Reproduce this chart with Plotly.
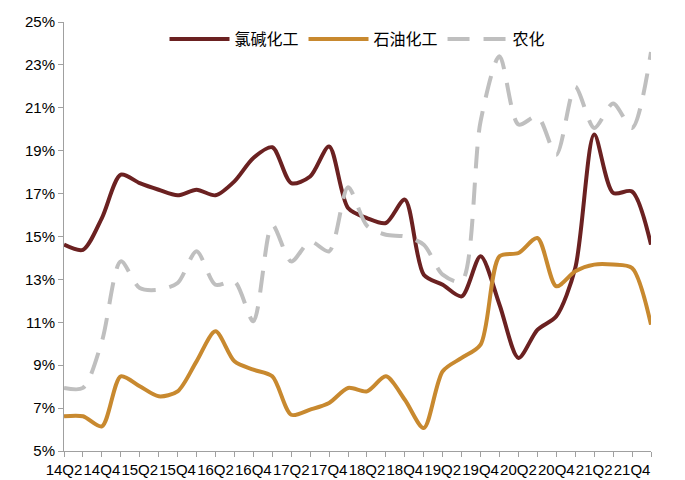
import plotly.graph_objects as go

quarters = ["14Q2","14Q3","14Q4","15Q1","15Q2","15Q3","15Q4","16Q1","16Q2","16Q3","16Q4","17Q1",
            "17Q2","17Q3","17Q4","18Q1","18Q2","18Q3","18Q4","19Q1","19Q2","19Q3","19Q4","20Q1",
            "20Q2","20Q3","20Q4","21Q1","21Q2","21Q3","21Q4","22Q1"]
chlor_alkali = [14.62,14.38,15.86,17.88,17.49,17.18,16.92,17.18,16.92,17.57,18.66,19.16,
                17.49,17.8,19.2,16.33,15.86,15.63,16.72,13.22,12.75,12.21,14.08,11.82,
                9.34,10.65,11.28,13.53,19.75,17.03,17.1,14.62]
petrochem = [6.62,6.62,6.15,8.48,8.02,7.55,7.78,9.18,10.58,9.18,8.79,8.48,
             6.69,6.93,7.24,7.94,7.78,8.48,7.39,6.07,8.72,9.34,9.96,14.08,
             14.23,14.93,12.68,13.38,13.69,13.69,13.53,10.89]
agro = [7.94,7.94,10.11,13.84,12.6,12.52,12.83,14.31,12.75,12.91,11.05,15.55,
        13.84,14.77,14.31,17.3,15.5,15.08,15.0,14.62,13.22,12.91,20.37,23.4,
        20.22,20.6,18.81,21.98,20.06,21.2,20.06,23.6]
names = ["氯碱化工","石油化工","农化"]
ytick_vals = [5,7,9,11,13,15,17,19,21,23,25]

x = list(range(len(quarters)))
fig = go.Figure()
for ys, nm, col, dash in [(chlor_alkali, names[0], "#6B2121", "solid"),
                          (petrochem, names[1], "#C8892F", "solid"),
                          (agro, names[2], "#BFBFBF", "22px,14px")]:
    fig.add_trace(go.Scatter(x=x, y=ys, name=nm, mode="lines",
                             line=dict(color=col, width=4, dash=dash, shape="spline", smoothing=0.8)))

fig.update_layout(
    width=685, height=480, paper_bgcolor="white", plot_bgcolor="white",
    margin=dict(l=56, r=42, t=14, b=37, autoexpand=False),
    font=dict(family="Noto Sans CJK SC", size=14, color="black"),
    legend=dict(orientation="h", x=0.5, xanchor="center", y=1.0, yanchor="top",
                xref="paper", yref="paper", font=dict(size=16), itemwidth=60,
                bgcolor="rgba(0,0,0,0)"),
    showlegend=True,
)
fig.update_xaxes(range=[0, len(quarters)-1], tickvals=x[::2], ticktext=quarters[::2],
                 showline=True, linecolor="#A0A0A0", ticks="outside", ticklen=5,
                 tickcolor="#A0A0A0", showgrid=False, zeroline=False, tickangle=0,
                 tickfont=dict(family="Liberation Sans Narrow, Liberation Sans", size=15))
fig.update_xaxes(minor=dict(tickvals=x, ticks="outside", ticklen=5, tickcolor="#A0A0A0"))
fig.update_yaxes(range=[5, 25], tickvals=ytick_vals, ticktext=[f"{v}%" for v in ytick_vals],
                 showline=True, linecolor="#A0A0A0", ticks="outside", ticklen=5,
                 tickcolor="#A0A0A0", showgrid=False, zeroline=False,
                 tickfont=dict(family="Liberation Sans Narrow, Liberation Sans", size=15))
fig.write_html("out.html")
